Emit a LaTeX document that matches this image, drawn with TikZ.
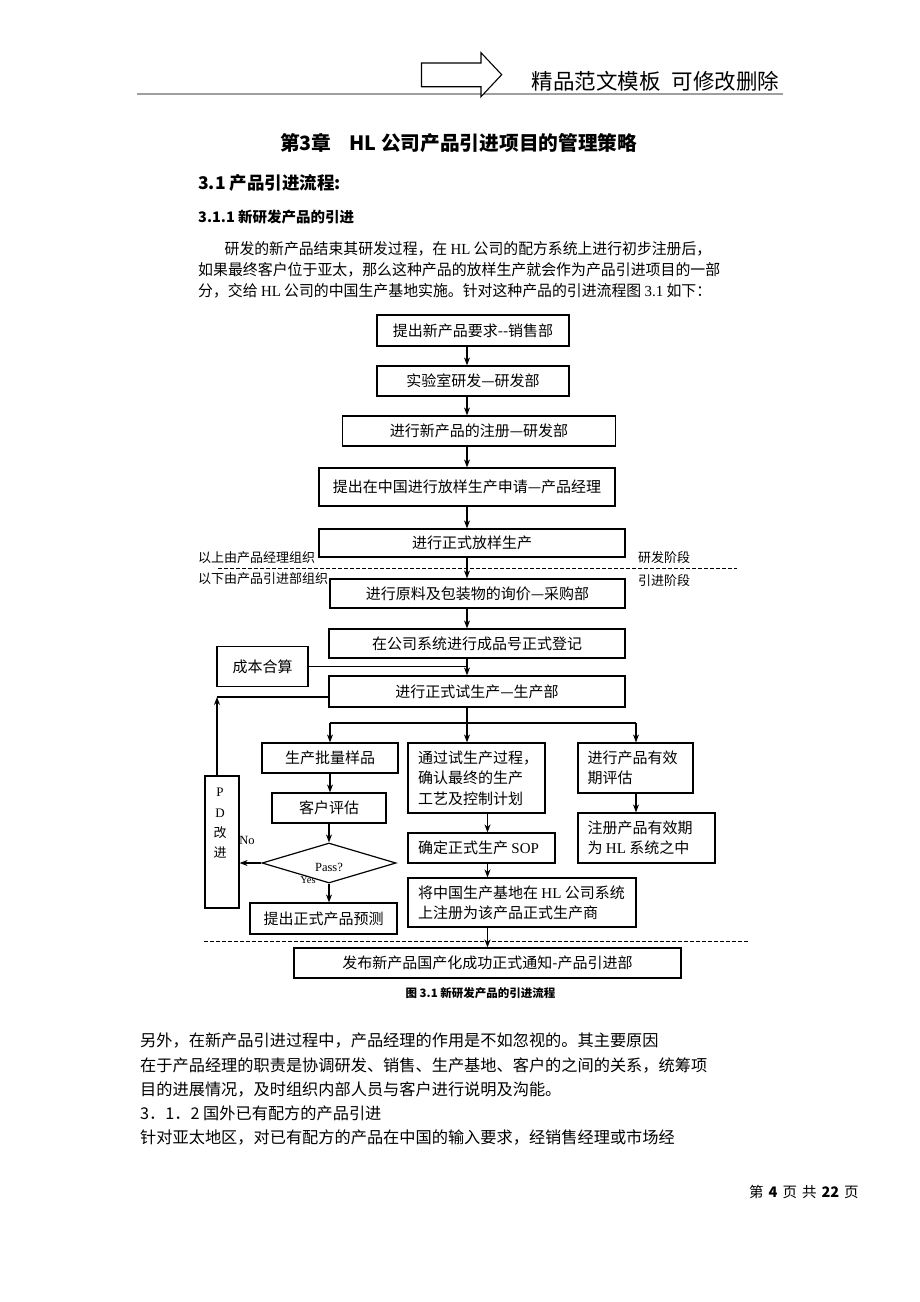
\documentclass[tikz,border=0pt]{standalone}
\usepackage{fontspec}
\usepackage{graphicx}
\setmainfont{Noto Sans CJK SC}
\newfontfamily\lat{Liberation Serif}
\usetikzlibrary{arrows.meta,shapes.geometric}
\newcommand\fsz[1]{\fontsize{#1}{#1}\selectfont}
\newcommand\fitto[2]{\resizebox{#1}{\height}{#2}}
\begin{document}
\begin{tikzpicture}[x=1pt,y=-1pt,
  box/.style={draw, line width=1.2pt, inner sep=0pt, font=\fsz{15}},
  txt/.style={inner sep=0pt, anchor=west},
  arr/.style={-{Stealth[length=8pt,width=6pt]}, line width=1.2pt},
  ln/.style={line width=1.2pt},
  dline/.style={line width=1pt, dash pattern=on 3.5pt off 2.5pt},
  sidelbl/.style={inner sep=0pt, anchor=west, font=\fsz{13}},
  para/.style={inner sep=0pt, anchor=west, font=\fsz{15.4}},
  body/.style={inner sep=0pt, anchor=west, font=\fsz{16.2}}]
\useasboundingbox (0,0) rectangle (920,1302);
\fill[white] (0,0) rectangle (920,1302);

% ---------- header ----------
\draw[line width=1.8pt, gray!75] (136.5,94) -- (783,94);
\draw[line width=1.1pt, fill=white] (421.5,63) -- (481,63) -- (481,52.7) -- (501.7,74.7) -- (481,96.7) -- (481,86.7) -- (421.5,86.7) -- cycle;
\node[txt, font=\fsz{21.5}] (hdr) at (531.7,81) {精品范文模板\hspace{11pt}可修改删除};

% ---------- headings & paragraph ----------
\node[txt, font=\bfseries\fsz{19.7}] (title) at (280,143) {第3章\hspace{18pt}HL 公司产品引进项目的管理策略};
\node[txt, font=\bfseries\fsz{17.5}] (sec) at (198,183) {3.1 产品引进流程:};
\node[txt, font=\bfseries\fsz{14.5}] (subsec) at (198,217) {3.1.1 新研发产品的引进};
\node[para] (p1) at (224.5,249) {\fitto{486.5pt}{研发的新产品结束其研发过程，在 {\lat HL} 公司的配方系统上进行初步注册后，}};
\node[para] (p2) at (198,270) {\fitto{522pt}{如果最终客户位于亚太，那么这种产品的放样生产就会作为产品引进项目的一部}};
\node[para] (p3) at (198,291) {\fitto{513pt}{分，交给 {\lat HL} 公司的中国生产基地实施。针对这种产品的引进流程图 {\lat 3.1} 如下：}};

% ---------- flowchart boxes ----------
\node[box, minimum width=192pt, minimum height=31pt] (b1) at (473,330.5) {提出新产品要求-{}-销售部};
\node[box, minimum width=192pt, minimum height=30pt] (b2) at (473,381) {实验室研发—研发部};
\node[box, minimum width=273pt, minimum height=30pt] (b3) at (479,431) {进行新产品的注册—研发部};
\node[box, minimum width=296pt, minimum height=38pt] (b4) at (467,487) {提出在中国进行放样生产申请—产品经理};
\node[box, minimum width=306pt, minimum height=28pt] (b5) at (472,543) {进行正式放样生产};
\node[box, minimum width=295pt, minimum height=29pt] (b6) at (477.5,593.5) {进行原料及包装物的询价—采购部};
\node[box, minimum width=296pt, minimum height=29pt] (b7) at (477,643.5) {在公司系统进行成品号正式登记};
\node[box, minimum width=91pt, minimum height=40pt] (cost) at (262.5,666.5) {成本合算};
\node[box, minimum width=296pt, minimum height=31pt] (b8) at (477,691.5) {进行正式试生产—生产部};

\node[box, minimum width=136pt, minimum height=30pt] (s1) at (330,758) {生产批量样品};
\node[box, minimum width=114pt, minimum height=30pt] (s2) at (329,808) {客户评估};
\node[draw, line width=1.2pt, diamond, inner sep=0pt, minimum width=134pt, minimum height=40pt] (dia) at (329,863) {};
\node[inner sep=0pt, font=\lat\fsz{12.5}] (pass) at (329,867) {Pass?};
\node[inner sep=0pt, font=\lat\fsz{10.5}] (yes) at (308,880) {Yes};
\node[inner sep=0pt, font=\lat\fsz{12.5}] (no) at (247,840) {No};
\node[box, minimum width=147pt, minimum height=31pt] (s3) at (323.5,918.5) {提出正式产品预测};

\node[box, minimum width=34pt, minimum height=132pt] (pd) at (222,842) {};
\node[inner sep=0pt, font=\lat\fsz{13}] (pdp) at (220,792) {P};
\node[inner sep=0pt, font=\lat\fsz{13}] (pdd) at (220,813) {D};
\node[inner sep=0pt, font=\fsz{13}] (pdg) at (220,832.5) {改};
\node[inner sep=0pt, font=\fsz{13}] (pdj) at (220,853) {进};

\node[box, minimum width=137pt, minimum height=70pt] (m1) at (476.5,778) {};
\node[txt, align=left, font=\fontsize{15}{20.5}\selectfont] (m1t) at ([xshift=10.5pt]m1.west) {通过试生产过程，\\确认最终的生产\\工艺及控制计划};
\node[box, minimum width=147pt, minimum height=30pt] (m2) at (481.5,848) {};
\node[txt, font=\fsz{15}] (m2t) at ([xshift=10.5pt]m2.west) {确定正式生产 {\lat SOP}};
\node[box, minimum width=228pt, minimum height=49pt] (m3) at (522,902.5) {};
\node[txt, align=left, font=\fontsize{15}{20}\selectfont] (m3t) at ([xshift=10.5pt]m3.west) {将中国生产基地在 {\lat HL} 公司系统\\上注册为该产品正式生产商};

\node[box, minimum width=115pt, minimum height=50pt] (r1) at (635.5,768) {};
\node[txt, align=left, font=\fontsize{15}{20}\selectfont] (r1t) at ([xshift=10pt]r1.west) {进行产品有效\\期评估};
\node[box, minimum width=137pt, minimum height=50pt] (r2) at (646.5,838) {};
\node[txt, align=left, font=\fontsize{15}{20}\selectfont] (r2t) at ([xshift=10pt]r2.west) {注册产品有效期\\为 {\lat HL} 系统之中};

\node[box, minimum width=387pt, minimum height=30pt] (fin) at (487.5,963) {发布新产品国产化成功正式通知-产品引进部};
\node[inner sep=0pt, font=\bfseries\fsz{11.5}] (cap) at (480.5,993) {图 3.1 新研发产品的引进流程};

% ---------- phase separators ----------
\draw[dline] (218,568.5) -- (737,568.5);
\draw[dline] (204,941.5) -- (749,941.5);
\node[sidelbl] (l1) at (198,558) {以上由产品经理组织};
\node[sidelbl] (l2) at (198,579) {以下由产品引进部组织};
\node[sidelbl] (l3) at (638,558) {研发阶段};
\node[sidelbl] (l4) at (638,580.5) {引进阶段};

% ---------- connectors ----------
\coordinate (ax) at (467,0);
\coordinate (mx) at (487.5,0);
\coordinate (j1) at (467,666.5);
\coordinate (br) at (467,723);
\coordinate (brl) at (330,723);
\coordinate (brr) at (636,723);
\coordinate (pdc) at (217,697);

\draw[arr] (b1.south -| ax) -- (b2.north -| ax);
\draw[arr] (b2.south -| ax) -- (b3.north -| ax);
\draw[arr] (b3.south -| ax) -- (b4.north -| ax);
\draw[arr] (b4.south -| ax) -- (b5.north -| ax);
\draw[arr] (b5.south -| ax) -- (b6.north -| ax);
\draw[arr] (b6.south -| ax) -- (b7.north -| ax);
\draw[arr] (b7.south -| ax) -- (b8.north -| ax);
\draw[ln] (cost.east) -- (j1);

\draw[ln] (b8.south -| ax) -- (br);
\draw[ln] (brl) -- (brr);
\draw[arr] (brl) -- (s1.north -| brl);
\draw[arr] (br) -- (m1.north -| br);
\draw[arr] (brr) -- (r1.north -| brr);

\draw[arr] (s1.south -| brl) -- (s2.north -| brl);
\draw[arr] (s2.south -| dia.north) -- (dia.north);
\draw[arr] (dia.south) -- (s3.north -| dia.south);
\draw[arr] (dia.west) -- (pd.east |- dia.west);
\draw[arr] (pd.north -| pdc) -- (pdc);
\draw[ln] (pdc) -- (b8.west |- pdc);

\draw[arr] (m1.south -| mx) -- (m2.north -| mx);
\draw[arr] (m2.south -| mx) -- (m3.north -| mx);
\draw[arr] (m3.south -| mx) -- (fin.north -| mx);
\draw[arr] (r1.south -| brr) -- (r2.north -| brr);

% ---------- body text ----------
\node[body] (t1) at (140,1041) {另外，在新产品引进过程中，产品经理的作用是不如忽视的。其主要原因};
\node[body] (t2) at (140,1065) {在于产品经理的职责是协调研发、销售、生产基地、客户的之间的关系，统筹项};
\node[body] (t3) at (140,1089) {目的进展情况，及时组织内部人员与客户进行说明及沟能。};
\node[body] (t4) at (140,1113) {3．1．2 国外已有配方的产品引进};
\node[body] (t5) at (140,1137) {针对亚太地区，对已有配方的产品在中国的输入要求，经销售经理或市场经};
\node[txt, font=\fsz{14.5}] (foot) at (749,1192) {第\hspace{5pt}\textbf{4}\hspace{5pt}页\hspace{5pt}共\hspace{5pt}\textbf{22}\hspace{5pt}页};
\end{tikzpicture}
\end{document}
